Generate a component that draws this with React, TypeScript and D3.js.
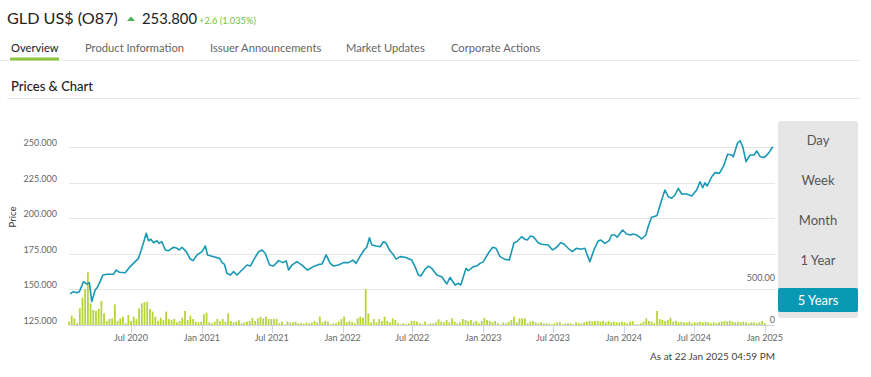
import React from "react";
import * as d3 from "d3";

// ---- Data ----
const priceTimes: number[] = [
  2020.065, 2020.089, 2020.113, 2020.131, 2020.16, 2020.184, 2020.202, 2020.219, 2020.243, 2020.259,
  2020.278, 2020.297, 2020.326, 2020.373, 2020.392, 2020.415, 2020.456, 2020.491, 2020.55, 2020.581,
  2020.605, 2020.621, 2020.638, 2020.657, 2020.681, 2020.697, 2020.716, 2020.74, 2020.763, 2020.799,
  2020.823, 2020.839, 2020.858, 2020.889, 2020.917, 2020.937, 2020.965, 2021.001, 2021.024, 2021.04,
  2021.083, 2021.126, 2021.143, 2021.159, 2021.178, 2021.202, 2021.225, 2021.249, 2021.285, 2021.32,
  2021.344, 2021.367, 2021.403, 2021.427, 2021.45, 2021.481, 2021.509, 2021.545, 2021.576, 2021.599,
  2021.616, 2021.64, 2021.675, 2021.711, 2021.751, 2021.793, 2021.836, 2021.853, 2021.883, 2021.912,
  2021.935, 2021.971, 2022.006, 2022.042, 2022.073, 2022.096, 2022.125, 2022.153, 2022.172, 2022.191,
  2022.208, 2022.238, 2022.267, 2022.29, 2022.307, 2022.333, 2022.357, 2022.38, 2022.409, 2022.444,
  2022.492, 2022.515, 2022.539, 2022.556, 2022.586, 2022.61, 2022.634, 2022.67, 2022.705, 2022.741,
  2022.764, 2022.8, 2022.823, 2022.84, 2022.878, 2022.894, 2022.93, 2022.954, 2022.977, 2023.001,
  2023.036, 2023.067, 2023.091, 2023.119, 2023.155, 2023.185, 2023.219, 2023.238, 2023.273, 2023.297,
  2023.313, 2023.337, 2023.356, 2023.391, 2023.415, 2023.462, 2023.493, 2023.522, 2023.55, 2023.574,
  2023.604, 2023.633, 2023.664, 2023.692, 2023.723, 2023.735, 2023.758, 2023.787, 2023.817, 2023.834,
  2023.865, 2023.895, 2023.912, 2023.936, 2023.952, 2023.991, 2024.019, 2024.047, 2024.066, 2024.09,
  2024.113, 2024.125, 2024.156, 2024.172, 2024.196, 2024.227, 2024.236, 2024.268, 2024.291, 2024.315,
  2024.339, 2024.362, 2024.386, 2024.41, 2024.445, 2024.481, 2024.516, 2024.54, 2024.559, 2024.575,
  2024.591, 2024.623, 2024.646, 2024.677, 2024.705, 2024.736, 2024.765, 2024.776, 2024.805, 2024.824,
  2024.843, 2024.866, 2024.895, 2024.923, 2024.942, 2024.966, 2024.996, 2025.025, 2025.056,
];

const prices: number[] = [
  146.8, 148.4, 147.7, 148.4, 155.4, 153.8, 154.7, 141.4, 149.6, 151.5,
  155.4, 160.1, 160.6, 160.6, 163.6, 162.0, 161.7, 166.0, 171.8, 181.2,
  189.4, 184.2, 185.2, 182.8, 184.2, 182.3, 183.5, 177.7, 177.2, 179.6,
  178.9, 177.7, 179.6, 176.5, 171.3, 170.2, 174.2, 176.5, 180.5, 174.2,
  173.0, 171.8, 168.8, 167.8, 161.3, 160.1, 162.5, 160.1, 163.6, 167.1,
  166.4, 170.6, 176.5, 177.7, 175.4, 167.1, 166.4, 170.2, 168.8, 170.0,
  163.6, 167.1, 169.5, 167.1, 163.6, 166.0, 167.6, 167.8, 174.2, 168.3,
  166.4, 167.1, 168.8, 168.8, 170.6, 168.3, 173.3, 177.7, 179.6, 186.3,
  181.2, 180.5, 180.0, 183.5, 182.8, 177.7, 174.9, 171.3, 173.0, 172.6,
  170.6, 166.0, 160.1, 159.4, 164.1, 166.4, 164.8, 160.1, 158.9, 153.8,
  158.4, 153.1, 154.3, 153.1, 164.8, 163.1, 166.0, 166.4, 168.3, 169.5,
  175.4, 179.6, 178.9, 173.0, 171.1, 170.6, 182.8, 183.5, 187.0, 185.2,
  184.7, 187.5, 187.0, 182.8, 181.7, 181.2, 177.7, 179.6, 182.8, 181.9,
  178.9, 176.5, 178.9, 178.2, 178.9, 175.4, 169.5, 177.7, 184.0, 184.7,
  182.3, 184.2, 188.2, 188.2, 186.6, 191.7, 188.9, 188.2, 188.9, 188.2,
  186.6, 185.4, 188.2, 194.0, 200.6, 201.5, 202.2, 212.8, 219.8, 215.1,
  214.0, 216.3, 221.0, 217.0, 217.0, 215.6, 219.8, 225.6, 221.4, 224.9,
  222.6, 229.1, 232.0, 231.5, 236.2, 244.9, 244.4, 243.2, 252.6, 254.4,
  250.2, 239.7, 244.4, 244.4, 247.2, 243.2, 242.7, 245.5, 250.2,
];

// weekly volume, starting 22 Jan 2020
const volumes: number[] = [
  40, 111, 79, 20, 198, 326, 429, 627, 258, 179,
  167, 191, 286, 139, 48, 71, 79, 246, 48, 79,
  99, 20, 119, 48, 99, 71, 198, 258, 270, 278,
  191, 159, 99, 48, 87, 60, 159, 71, 60, 71,
  32, 48, 87, 167, 60, 111, 71, 40, 32,
  40, 127, 147, 32, 20, 40, 71, 48, 71, 40,
  139, 48, 32, 40, 56, 20, 32, 40, 48, 87,
  48, 79, 99, 79, 99, 71, 71, 71, 71, 20,
  40, 8, 40, 28, 32, 40, 20, 20,
  16, 28, 20, 28, 48, 32, 99, 32,
  48, 40, 8, 20, 20, 40, 71, 99, 32, 48,
  32, 20, 79, 99, 87, 429, 139, 32, 71, 32,
  71, 48, 99, 48, 32, 79, 60, 20, 8, 20,
  8, 20, 48, 48, 40,
  20, 8, 40, 8, 20, 20, 32, 67, 40, 32,
  60, 32, 79, 40, 20, 32, 71, 60, 48, 60,
  32, 48, 20, 48, 87, 60, 48, 32, 48, 20,
  8, 32, 20, 40, 60, 99, 32, 79, 79, 79,
  20, 40, 48, 32, 20, 32, 20, 20, 16, 8,
  20, 32, 32, 8, 20, 20, 20, 8, 32,
  20, 20, 32, 40, 48, 40, 48, 48, 40, 48,
  32, 48, 32, 40, 32, 32, 40, 32, 20, 40,
  48, 8, 8, 20, 40, 79, 48, 40, 20,
  167, 71, 60, 48, 60, 87, 40, 48, 32, 40,
  32, 32, 40, 20, 32, 32, 40, 32, 40, 32,
  20, 32, 20, 32, 40, 48, 40, 48, 40, 32,
  40, 32, 40, 32, 20, 32, 32, 20, 32, 48, 20,
];

const priceTicks: number[] = [125, 150, 175, 200, 225, 250];
const volumeTicks: number[] = [0, 500];
const tabs: string[] = ["Overview", "Product Information", "Issuer Announcements", "Market Updates", "Corporate Actions"];
const tabX: number[] = [11, 85, 210, 346, 451];
const ranges: string[] = ["Day", "Week", "Month", "1 Year", "5 Years"];

const FONT = "Lato, 'Noto Sans', sans-serif";

function toDate(t: number): Date {
  const y = Math.floor(t);
  const s = Date.UTC(y, 0, 1);
  const e = Date.UTC(y + 1, 0, 1);
  return new Date(s + (t - y) * (e - s));
}

export default function App() {
  const W = 871, H = 377;
  const start = new Date(Date.UTC(2020, 0, 22));
  const end = new Date(Date.UTC(2025, 0, 22));
  const x = d3.scaleUtc().domain([start, end]).range([69, 773]);
  const y = d3.scaleLinear().domain([125, 250]).range([325, 147]);
  const yv = d3.scaleLinear().domain([0, 500]).range([325, 283]);

  const pts = priceTimes.map((t, i) => [toDate(t), prices[i]] as [Date, number]);
  const line = d3.line<[Date, number]>().x(d => x(d[0])).y(d => y(d[1]));
  const xTicks = d3.utcMonth.every(6)!.range(d3.utcMonth.offset(start, 1), end);
  const fmt = d3.utcFormat("%b %Y");
  const week = 7 * 24 * 3600 * 1000;

  return (
    <div style={{ position: "absolute", left: 0, top: 0 }}>
      <svg width={W} height={H} style={{ display: "block", fontFamily: FONT }}>
        <rect x={0} y={0} width={W} height={H} fill="#fff" />
        {/* header */}
        <text x={7} y={24} fontSize={16.2} fill="#222">GLD US$ (O87)</text>
        <path d="M127,21 L131,16.5 L135,21 Z" fill="#4caf50" />
        <text x={142} y={24} fontSize={14.8} fill="#222">253.800</text>
        <text x={199} y={23.5} fontSize={9.3} fill="#6cbf4a">+2.6 (1.035%)</text>
        {/* tabs */}
        {tabs.map((t, i) => (
          <text key={t} x={tabX[i]} y={52} fontSize={11.2} fill={i === 0 ? "#222" : "#666"}>{t}</text>
        ))}
        <line x1={0} x2={860} y1={60.5} y2={60.5} stroke="#e9e9e9" />
        <rect x={10} y={57.5} width={49} height={3} fill="#8cc63f" />
        <text x={11} y={90.5} fontSize={13} fill="#222" fontWeight={500}>Prices &amp; Chart</text>
        <line x1={7} x2={860} y1={98.5} y2={98.5} stroke="#e6e6e6" />

        {/* grid */}
        {priceTicks.map(v => (
          <line key={v} x1={69} x2={775} y1={Math.round(y(v)) + 0.5} y2={Math.round(y(v)) + 0.5} stroke="#e6e6e6" />
        ))}
        {priceTicks.map(v => (
          <text key={"l" + v} x={57} y={y(v) - 1} fontSize={9} fill="#666" textAnchor="end">{v.toFixed(3)}</text>
        ))}
        <text transform="translate(16,217) rotate(-90)" fontSize={9.5} fill="#333" textAnchor="middle">Price</text>

        {/* volume */}
        {volumes.map((v, i) => {
          const d = new Date(start.getTime() + i * week);
          if (d > end) return null;
          return <rect key={"v" + i} x={x(d) - 0.9} y={yv(v)} width={1.8} height={yv(0) - yv(v)} fill="#b7d53a" />;
        })}
        {volumeTicks.map(v => (
          <text key={"vt" + v} x={775} y={yv(v) - 2} fontSize={9} fill="#666" textAnchor="end">
            {v === 0 ? "0" : v.toFixed(2)}
          </text>
        ))}

        {/* x axis */}
        <line x1={69} x2={775} y1={325.5} y2={325.5} stroke="#ccd6eb" />
        {xTicks.map(d => (
          <g key={d.getTime()}>
            <line x1={Math.round(x(d)) + 0.5} x2={Math.round(x(d)) + 0.5} y1={325} y2={333} stroke="#ccd6eb" />
            <text x={x(d)} y={340.5} fontSize={9} fill="#666" textAnchor="middle">{fmt(d)}</text>
          </g>
        ))}

        {/* price line */}
        <path d={line(pts) || ""} fill="none" stroke="#1798b4" strokeWidth={1.6} strokeLinejoin="round" />

        {/* range selector */}
        <rect x={778} y={121} width={80} height={197} rx={3} fill="#e6e6e6" />
        <rect x={778} y={288} width={80} height={24} rx={2} fill="#0a99b4" />
        {ranges.map((r, i) => (
          <text key={r} x={818} y={140 + i * 40} fontSize={13} fill={i === 4 ? "#fff" : "#555"} textAnchor="middle" dominantBaseline="central">{r}</text>
        ))}

        <text x={775} y={360} fontSize={10} fill="#444" textAnchor="end">As at 22 Jan 2025 04:59 PM</text>
      </svg>
    </div>
  );
}
